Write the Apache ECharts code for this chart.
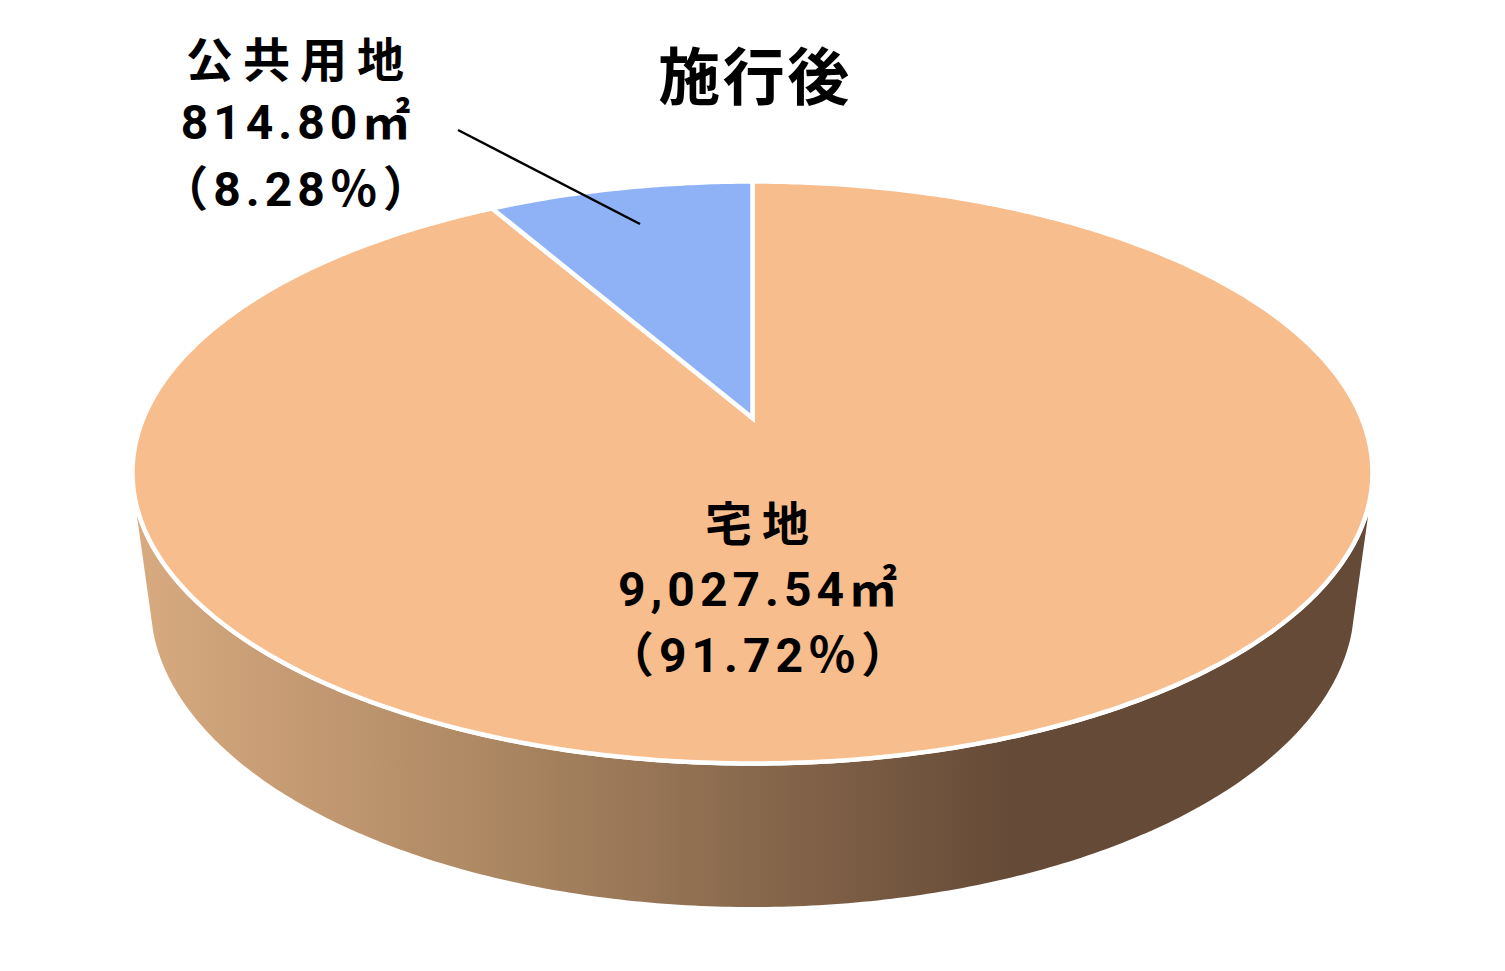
<!DOCTYPE html>
<html><head><meta charset="utf-8">
<style>
html,body{margin:0;padding:0;background:#fff}
#c{width:1505px;height:971px}
svg text{letter-spacing:10px}
svg text[style*="Roboto"]{letter-spacing:5px}
svg text[style*="62px"]{letter-spacing:2.5px}
</style>
<script src="https://cdn.jsdelivr.net/npm/echarts@6/dist/echarts.min.js"></script>
</head><body><div id="c"></div>
<script>
const titleText = '施行後';
const categories = ['宅地', '公共用地'];
const areas = [9027.54, 814.80];
const areaLabels = ['9,027.54㎡', '814.80㎡'];
const percentLabels = ['（91.72％）', '（8.28％）'];
const sliceColors = ['#F7BD8C', '#8FB2F7'];

const total = areas.reduce((a, b) => a + b, 0);
const RIM = 4.5;
const TOP = {cx: 752.5, cy: 472.5, rx: 620, ry: 291};
const BASE = {cx: 752.5, cy: 603, rx: 602, ry: 304};
const APEX_SHIFT = 0.187;               // perspective shift of the disc centre
const KANJI = 'bold 47px "Noto Sans CJK JP"';
const DIGIT = 'bold 48px Roboto,"Noto Sans CJK JP"';

// angle measured clockwise from 12 o'clock, projected on the tilted disc
function project(theta) {
  const u = Math.sin(theta), v = Math.cos(theta), d = 1 + APEX_SHIFT * v;
  return [TOP.cx + TOP.rx * u * Math.sqrt(1 - APEX_SHIFT * APEX_SHIFT) / d,
          TOP.cy - TOP.ry * (v + APEX_SHIFT) / d];
}
function sectorPoints(a0, a1) {
  const pts = [[TOP.cx, TOP.cy - TOP.ry * APEX_SHIFT]];
  const n = Math.max(2, Math.ceil((a1 - a0) / 0.01));
  for (let i = 0; i <= n; i++) pts.push(project(a0 + (a1 - a0) * i / n));
  return pts;
}
function wallPoints() {
  const pts = [], N = 240, start = 515, baseStart = 632;
  const rx = TOP.rx + RIM / 2, ry = TOP.ry + RIM / 2;
  const t0 = Math.asin((start - TOP.cy) / ry), b0 = Math.asin((baseStart - BASE.cy) / BASE.ry);
  for (let i = 0; i <= N; i++) {
    const t = t0 + (Math.PI - 2 * t0) * i / N;
    pts.push([TOP.cx + rx * Math.cos(t), TOP.cy + ry * Math.sin(t)]);
  }
  for (let i = N; i >= 0; i--) {
    const t = b0 + (Math.PI - 2 * b0) * i / N;
    pts.push([BASE.cx + BASE.rx * Math.cos(t), BASE.cy + BASE.ry * Math.sin(t)]);
  }
  return pts;
}
const txt = (text, x, y, font, fill) => ({type: 'text', style: {text, x, y, font, fill: fill || '#000', align: 'center', verticalAlign: 'middle'}});

const labelPlaces = [{x: 762, dx: 760, y: [520, 589, 655]}, {x: 300, dx: 298, y: [56, 122, 189]}];
const leader = [[458, 130], [640, 224]];

const chart = echarts.init(document.getElementById('c'), null, {renderer: 'svg'});
chart.setOption({
  animation: false,
  backgroundColor: '#fff',
  title: {text: titleText, left: 750, top: 37, textAlign: 'center',
    textStyle: {fontFamily: '"Noto Sans CJK JP"', fontSize: 62, fontWeight: 'bold', color: '#000'}},
  series: [
    {
      type: 'custom', coordinateSystem: 'none', silent: true, z: 1, data: [[total]],
      renderItem: () => ({
        type: 'polygon', shape: {points: wallPoints()},
        style: {fill: new echarts.graphic.LinearGradient(137, 0, 1010, 0, [
          {offset: 0, color: '#D8AA80'},
          {offset: 0.4, color: '#AD8863'},
          {offset: 1, color: '#654A37'}
        ], true)}
      })
    },
    {
      type: 'custom', coordinateSystem: 'none', silent: true, z: 2,
      data: areas.map((v, i) => [v, areas.slice(0, i).reduce((a, b) => a + b, 0), i]),
      renderItem: (params, api) => {
        const a0 = api.value(1) / total * 2 * Math.PI;
        const a1 = (api.value(1) + api.value(0)) / total * 2 * Math.PI;
        return {type: 'polygon', shape: {points: sectorPoints(a0, a1)},
          style: {fill: sliceColors[api.value(2)], stroke: '#fff', lineWidth: RIM, lineJoin: 'miter'}};
      }
    },
    {
      type: 'custom', coordinateSystem: 'none', silent: true, z: 3,
      data: categories.map((c, i) => [i]),
      renderItem: (params, api) => {
        const i = api.value(0), p = labelPlaces[i];
        const children = [
          txt(categories[i], p.x, p.y[0], KANJI),
          txt(areaLabels[i], p.dx, p.y[1], DIGIT),
          txt(percentLabels[i], p.dx, p.y[2], DIGIT)
        ];
        if (i === 1) children.push({type: 'line',
          shape: {x1: leader[0][0], y1: leader[0][1], x2: leader[1][0], y2: leader[1][1]},
          style: {stroke: '#000', lineWidth: 2.5}});
        return {type: 'group', children};
      }
    }
  ]
});
</script></body></html>
